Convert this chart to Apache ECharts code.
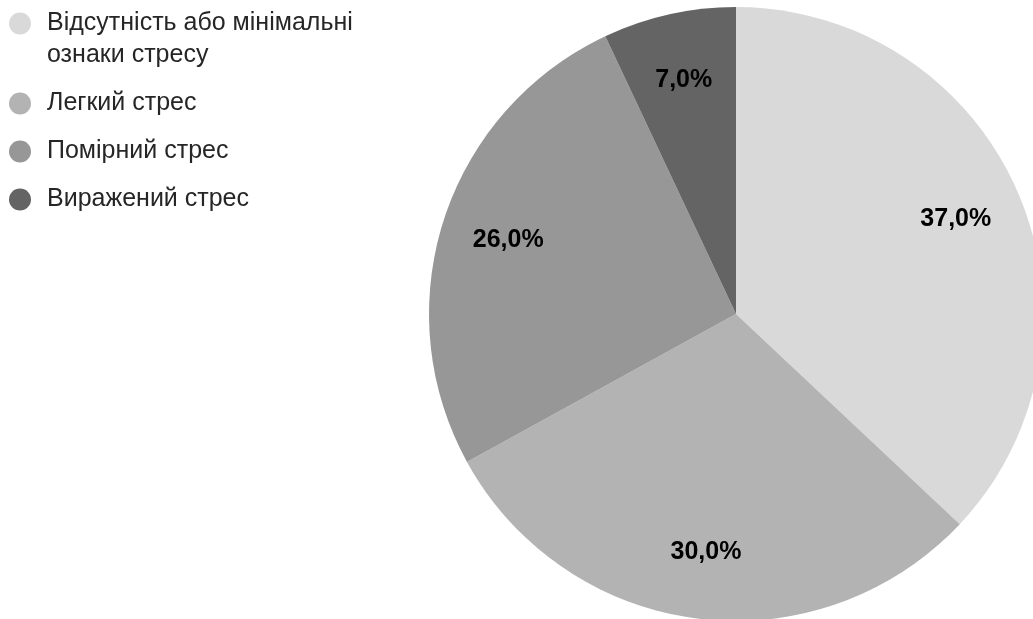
<!DOCTYPE html>
<html>
<head>
<meta charset="utf-8">
<script src="https://cdn.jsdelivr.net/npm/echarts@6/dist/echarts.min.js"></script>
<style>
  html, body { margin: 0; padding: 0; background: #fff; }
  #chart { width: 1033px; height: 619px; }
</style>
</head>
<body>
<div id="chart"></div>
<script>
const categories = [
  'Відсутність або мінімальні ознаки стресу',
  'Легкий стрес',
  'Помірний стрес',
  'Виражений стрес'
];
const shares = [37.0, 30.0, 26.0, 7.0];
const sliceColors = ['#d9d9d9', '#b3b3b3', '#979797', '#646464'];

const legendLine = 32;

const myChart = echarts.init(document.getElementById('chart'));

const pieData = categories.map((name, i) => ({
  name: name,
  value: shares[i],
  itemStyle: { color: sliceColors[i] }
}));

const option = {
  animation: false,
  legend: {
    orient: 'vertical',
    left: 9,
    top: 23.5 - legendLine * 1.5,
    padding: 0,
    icon: 'circle',
    itemWidth: 22,
    itemHeight: 22,
    itemGap: 16,
    selectedMode: false,
    // перший пункт у два рядки; порожній рядок зверху тримає значок на рівні першого рядка
    formatter: function (name) {
      if (name === categories[0]) {
        return '{t|\u00a0}\n{t|Відсутність або мінімальні}\n{t|ознаки стресу}';
      }
      return '{t|' + name + '}';
    },
    textStyle: {
      fontFamily: 'Liberation Sans, Arial, sans-serif',
      fontSize: 25,
      lineHeight: legendLine,
      color: '#262626',
      rich: {
        t: {
          fontFamily: 'Liberation Sans, Arial, sans-serif',
          fontSize: 25,
          lineHeight: legendLine,
          color: '#262626',
          padding: [0, 0, 0, 11]
        }
      }
    },
    data: categories
  },
  series: [
    {
      type: 'pie',
      center: [736, 314],
      radius: [0, 307],
      startAngle: 90,
      clockwise: true,
      label: { show: false },
      labelLine: { show: false },
      itemStyle: { borderWidth: 0 },
      emphasis: { disabled: true },
      data: pieData
    },
    {
      // прозоре кільце лише для підписів
      type: 'pie',
      center: [736, 314],
      radius: [166, 307],
      startAngle: 90,
      clockwise: true,
      silent: true,
      legendHoverLink: false,
      itemStyle: { color: 'rgba(0,0,0,0)', borderWidth: 0 },
      emphasis: { disabled: true },
      labelLine: { show: false },
      label: {
        show: true,
        position: 'inside',
        fontFamily: 'Liberation Sans, Arial, sans-serif',
        fontWeight: 'bold',
        fontSize: 25,
        color: '#000',
        formatter: function (p) {
          return p.value.toFixed(1).replace('.', ',') + '%';
        }
      },
      data: categories.map((name, i) => ({ name: name, value: shares[i] }))
    }
  ]
};

myChart.setOption(option);
window.addEventListener('resize', () => myChart.resize());
</script>
</body>
</html>
